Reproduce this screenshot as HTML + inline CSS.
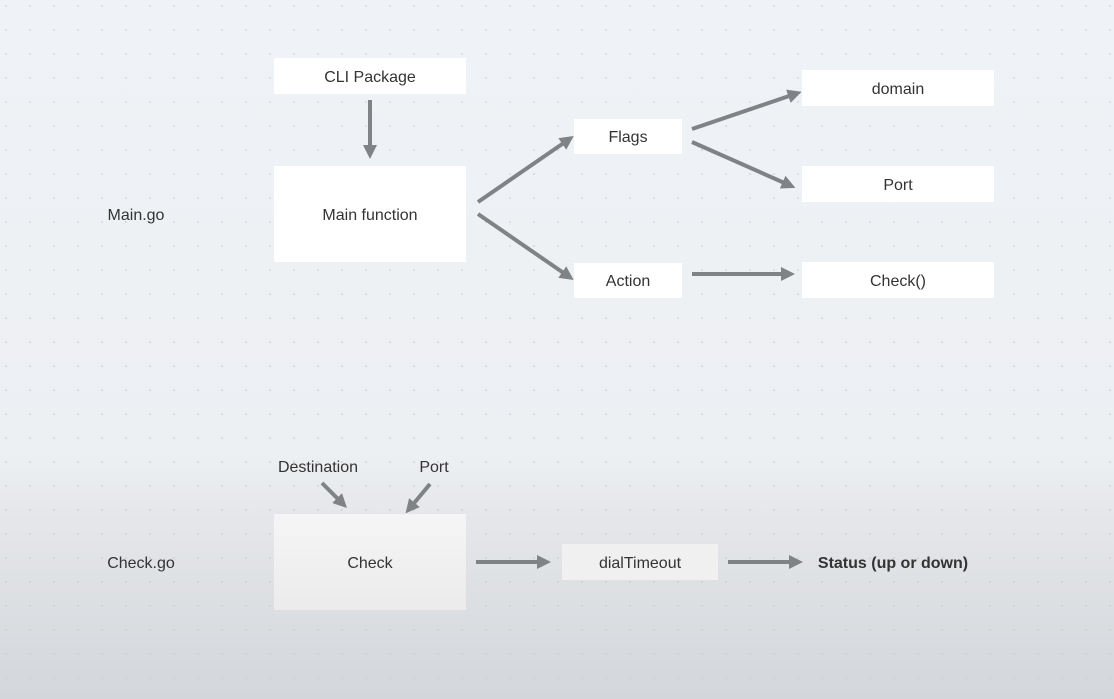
<!DOCTYPE html>
<html><head><style>
html,body{margin:0;padding:0;}
body{width:1114px;height:699px;overflow:hidden;font-family:"Liberation Sans",sans-serif;}
svg{display:block;}
</style></head><body>
<svg width="1114" height="699" xmlns="http://www.w3.org/2000/svg">
<defs>
<linearGradient id="bg" x1="0" y1="0" x2="0" y2="1">
<stop offset="0" stop-color="#eff2f6"/>
<stop offset="0.65" stop-color="#edf0f3"/>
<stop offset="0.72" stop-color="#e6e8eb"/>
<stop offset="1" stop-color="#d3d6da"/>
</linearGradient>
<linearGradient id="cg" x1="0" y1="0" x2="0" y2="1">
<stop offset="0" stop-color="#f5f5f5"/>
<stop offset="1" stop-color="#ebebeb"/>
</linearGradient>
<pattern id="dots" width="24" height="24" patternUnits="userSpaceOnUse" x="5" y="5">
<circle cx="1" cy="1" r="0.9" fill="#c9ccd2"/>
</pattern>
<marker id="ah" markerWidth="3.5" markerHeight="3.5" refX="1.75" refY="1.75" orient="auto" markerUnits="strokeWidth">
<path d="M0,0 L3.5,1.75 L0,3.5 z" fill="#808386"/>
</marker>
</defs>
<rect width="1114" height="699" fill="url(#bg)"/>
<rect width="1114" height="699" fill="url(#dots)"/>
<g fill="#fff">
<rect x="274" y="58" width="192" height="36"/>
<rect x="274" y="166" width="192" height="96"/>
<rect x="574" y="119" width="108" height="35"/>
<rect x="574" y="263" width="108" height="35"/>
<rect x="802" y="70" width="192" height="36"/>
<rect x="802" y="166" width="192" height="36"/>
<rect x="802" y="262" width="192" height="36"/>
</g>
<rect x="274" y="514" width="192" height="96" fill="url(#cg)"/>
<rect x="562" y="544" width="156" height="36" fill="#f0f0f0"/>
<g stroke="#808386" stroke-width="4" fill="none" marker-end="url(#ah)">
<line x1="370" y1="100" x2="370" y2="152"/>
<line x1="478" y1="202" x2="568" y2="140"/>
<line x1="478" y1="214" x2="568" y2="276"/>
<line x1="692" y1="129" x2="795" y2="94"/>
<line x1="692" y1="142" x2="789" y2="185"/>
<line x1="692" y1="274" x2="788" y2="274"/>
<line x1="322" y1="483" x2="342" y2="503"/>
<line x1="430" y1="484" x2="410" y2="508"/>
<line x1="476" y1="562" x2="544" y2="562"/>
<line x1="728" y1="562" x2="796" y2="562"/>
</g>
<g font-size="16" fill="#333" text-anchor="middle" font-family="Liberation Sans, sans-serif">
<text x="370" y="82">CLI Package</text>
<text x="370" y="220">Main function</text>
<text x="628" y="142">Flags</text>
<text x="628" y="286">Action</text>
<text x="898" y="94">domain</text>
<text x="898" y="190">Port</text>
<text x="898" y="286">Check()</text>
<text x="370" y="568">Check</text>
<text x="640" y="568">dialTimeout</text>
<text x="318" y="472">Destination</text>
<text x="434" y="472">Port</text>
<text x="136" y="220">Main.go</text>
<text x="141" y="568">Check.go</text>
<text x="893" y="568" font-weight="bold">Status (up or down)</text>
</g>
</svg>
</body></html>
